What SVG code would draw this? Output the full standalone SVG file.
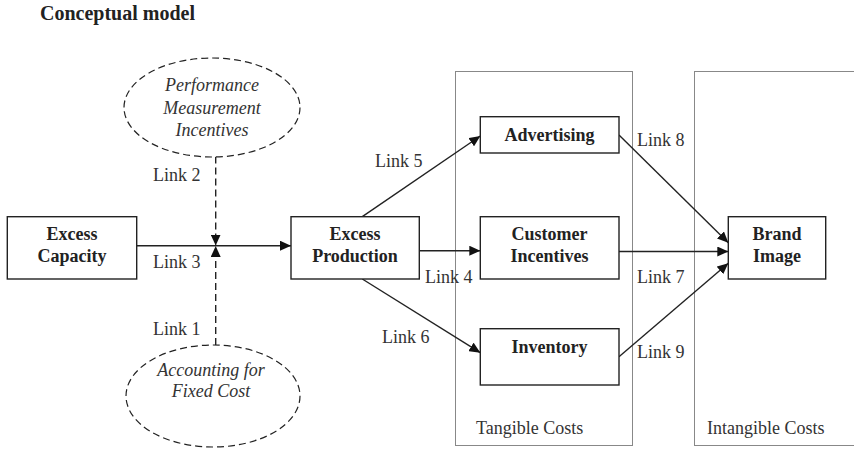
<svg xmlns="http://www.w3.org/2000/svg" width="854" height="449" viewBox="0 0 854 449">
<style>
.box{fill:#fff;stroke:#222;stroke-width:1.4}
.region{fill:none;stroke:#111;stroke-width:1;stroke-dasharray:1 1}
.ell{fill:#fff;stroke:#222;stroke-width:1.2;stroke-dasharray:7 4}
.b{font-family:"Liberation Serif",serif;font-weight:bold;font-size:18px;fill:#222;text-anchor:middle}
.i{font-family:"Liberation Serif",serif;font-style:italic;font-size:18px;fill:#333;text-anchor:middle}
.t{font-family:"Liberation Serif",serif;font-size:18px;fill:#333}
.c{fill:none;stroke:#222;stroke-width:1.4}
.d{fill:none;stroke:#222;stroke-width:1.4;stroke-dasharray:7 4}
</style>
<defs>
<marker id="ah" markerUnits="userSpaceOnUse" markerWidth="12" markerHeight="10" refX="11" refY="5" orient="auto">
<path d="M0,0 L11,5 L0,10 Z" fill="#111"/>
</marker>
</defs>
<rect width="854" height="449" fill="#fff"/>
<text x="40" y="20" font-family="Liberation Serif, serif" font-weight="bold" font-size="20" fill="#222">Conceptual model</text>

<g id="tangible-costs">
<rect class="region" x="455.5" y="71.5" width="177" height="374"/>
<text class="t" x="476" y="434">Tangible Costs</text>
</g>
<g id="intangible-costs">
<rect class="region" x="694.5" y="71.5" width="170" height="374"/>
<text class="t" x="707" y="434">Intangible Costs</text>
</g>

<g id="connectors">
<line class="c" x1="136.7" y1="245.7" x2="291" y2="245.7" marker-end="url(#ah)"/>
<line class="d" x1="215.7" y1="156.5" x2="215.7" y2="245.5" marker-end="url(#ah)"/>
<line class="d" x1="215.7" y1="345" x2="215.7" y2="246" marker-end="url(#ah)"/>
<line class="c" x1="362.3" y1="216.7" x2="480.3" y2="136" marker-end="url(#ah)"/>
<line class="c" x1="419.3" y1="250.7" x2="480.3" y2="250.7" marker-end="url(#ah)"/>
<line class="c" x1="362.3" y1="279" x2="480.3" y2="352.7" marker-end="url(#ah)"/>
<line class="c" x1="619" y1="135" x2="728.3" y2="242.7" marker-end="url(#ah)"/>
<line class="c" x1="619" y1="251.5" x2="728.3" y2="251.5" marker-end="url(#ah)"/>
<line class="c" x1="619" y1="356.7" x2="728.3" y2="263.3" marker-end="url(#ah)"/>
<text class="t" x="153" y="181">Link 2</text>
<text class="t" x="153" y="268">Link 3</text>
<text class="t" x="153" y="335">Link 1</text>
<text class="t" x="375" y="166.5">Link 5</text>
<text class="t" x="425" y="283">Link 4</text>
<text class="t" x="382" y="343">Link 6</text>
<text class="t" x="637" y="146">Link 8</text>
<text class="t" x="637" y="283">Link 7</text>
<text class="t" x="637" y="358">Link 9</text>
</g>

<g id="performance-measurement">
<ellipse class="ell" cx="212" cy="107.5" rx="88" ry="49.5"/>
<text class="i" x="212" y="91">Performance</text>
<text class="i" x="212" y="114">Measurement</text>
<text class="i" x="212" y="136">Incentives</text>
</g>
<g id="accounting-fixed-cost">
<ellipse class="ell" cx="213" cy="396" rx="87" ry="51"/>
<text class="i" x="211" y="376">Accounting for</text>
<text class="i" x="211" y="397">Fixed Cost</text>
</g>
<g id="excess-capacity">
<rect class="box" x="7.3" y="216.7" width="129.4" height="62.3"/>
<text class="b" x="72" y="240">Excess</text>
<text class="b" x="72" y="261.5">Capacity</text>
</g>
<g id="excess-production">
<rect class="box" x="291" y="216.7" width="128.3" height="62.3"/>
<text class="b" x="355" y="240">Excess</text>
<text class="b" x="355" y="261.5">Production</text>
</g>
<g id="advertising">
<rect class="box" x="480.3" y="116.7" width="138.7" height="36.3"/>
<text class="b" x="549.5" y="141">Advertising</text>
</g>
<g id="customer-incentives">
<rect class="box" x="480.3" y="216.7" width="138.7" height="62.3"/>
<text class="b" x="549.5" y="240">Customer</text>
<text class="b" x="549.5" y="261.5">Incentives</text>
</g>
<g id="inventory">
<rect class="box" x="480.3" y="328.7" width="138.7" height="56.3"/>
<text class="b" x="549.5" y="352.7">Inventory</text>
</g>
<g id="brand-image">
<rect class="box" x="728.3" y="216.7" width="97.4" height="62.3"/>
<text class="b" x="777" y="240">Brand</text>
<text class="b" x="777" y="261.5">Image</text>
</g>
</svg>
